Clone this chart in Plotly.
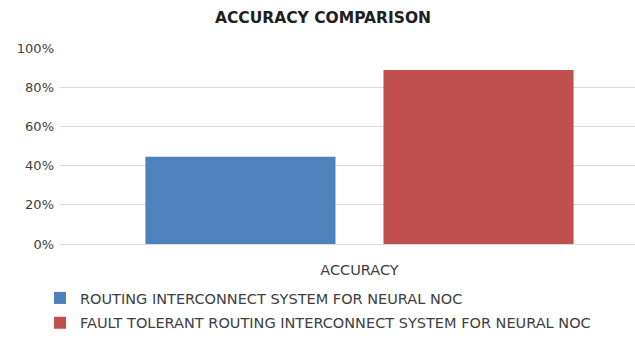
import plotly.graph_objects as go

categories = ["ACCURACY"]
series_names = [
    "ROUTING INTERCONNECT SYSTEM FOR NEURAL NOC",
    "FAULT TOLERANT ROUTING INTERCONNECT SYSTEM FOR NEURAL NOC",
]
series_values = [[0.445], [0.888]]
colors = ["#4F81BD", "#C0504D"]
y_ticks = [0, 0.2, 0.4, 0.6, 0.8, 1.0]

FONT = "'DejaVu Sans', 'Open Sans', sans-serif"
TXT = "#404040"

fig = go.Figure()
for i, (name, vals) in enumerate(zip(series_names, series_values)):
    fig.add_trace(go.Bar(
        x=categories, y=vals, name=name, marker_color=colors[i],
        marker_line_width=0, legendgroup=f"g{i}",
    ))

fig.update_layout(
    width=635, height=347,
    margin=dict(l=60, r=0, t=48, b=103, autoexpand=False),
    paper_bgcolor="white", plot_bgcolor="white",
    font=dict(family=FONT, size=12, color=TXT),
    title=dict(text="<b>ACCURACY COMPARISON</b>", x=323/635, xanchor="center",
               y=1 - 18/347, yanchor="middle", yref="container",
               font=dict(family=FONT, size=15.5, color="#202020")),
    barmode="group", bargap=0.205, bargroupgap=0.2017,
    showlegend=True,
    legend=dict(orientation="v", xref="paper", yref="paper",
                x=(40 - 60) / 575, xanchor="left", y=(244 - 282) / 196, yanchor="top",
                font=dict(family=FONT, size=14.5, color=TXT),
                tracegroupgap=3, itemwidth=30,
                bgcolor="rgba(0,0,0,0)"),
    xaxis=dict(range=[-0.5, 0.46], showgrid=False, showline=False, zeroline=False,
               ticks="", ticklabelstandoff=15,
               tickfont=dict(family=FONT, size=14.5, color=TXT)),
    yaxis=dict(range=[0, 1], tickvals=y_ticks, tickformat=".0%",
               showgrid=True, gridcolor="#D9D9D9", gridwidth=1,
               zeroline=True, zerolinecolor="#D9D9D9", zerolinewidth=1,
               showline=False, ticks="", ticklabelstandoff=5,
               tickfont=dict(family=FONT, size=13, color=TXT)),
)

fig.write_html("out.html")
